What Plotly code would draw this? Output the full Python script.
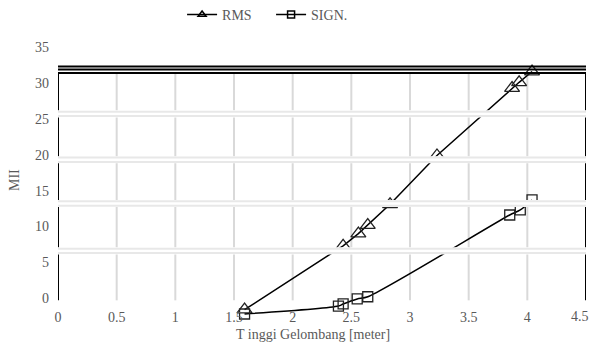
import plotly.graph_objects as go

# Data
rms_x = [1.59, 2.43, 2.56, 2.64, 2.83, 3.23, 3.87, 3.93, 4.04]
rms_y = [-1.6, 7.3, 9.0, 10.2, 13.1, 19.9, 29.3, 30.1, 31.6]
sign_x = [1.59, 2.39, 2.43, 2.55, 2.64, 3.85, 3.94, 4.04]
sign_y = [-2.2, -1.1, -0.8, -0.1, 0.2, 11.6, 12.3, 13.7]

x_ticks = [0, 0.5, 1, 1.5, 2, 2.5, 3, 3.5, 4, 4.5]
y_ticks = [0, 5, 10, 15, 20, 25, 30, 35]
band_levels = [25.7, 19.3, 13.2, 6.6]
top_lines = [32.3, 31.9, 31.4]

FONT = "Liberation Serif, Times New Roman, serif"
GRAY = "#595959"
frame_top = top_lines[-1]
frame_bottom = -0.3
y_range = [-2.9, 35.3]

fig = go.Figure()

fig.add_trace(go.Scatter(
    x=rms_x, y=rms_y, mode="lines+markers", showlegend=False,
    line=dict(color="black", width=1.5),
    marker=dict(symbol="triangle-up-open", size=13, color="#222", line=dict(width=1.3)),
    cliponaxis=False))
fig.add_trace(go.Scatter(
    x=sign_x, y=sign_y, mode="lines+markers", showlegend=False,
    line=dict(color="black", width=1.5, shape="spline", smoothing=0.8),
    marker=dict(symbol="square-open", size=10, color="#222", line=dict(width=1.3)),
    cliponaxis=False))

# legend entries
fig.add_trace(go.Scatter(x=[None], y=[None], mode="lines+markers", name="RMS",
                         line=dict(color="black", width=1.5),
                         marker=dict(symbol="triangle-up-open", size=7, color="black", line=dict(width=1.5))))
fig.add_trace(go.Scatter(x=[None], y=[None], mode="lines+markers", name="SIGN.",
                         line=dict(color="black", width=1.5),
                         marker=dict(symbol="square-open", size=7, color="black", line=dict(width=1.5))))

shapes = []
for xv in x_ticks[1:-1]:
    shapes.append(dict(type="line", xref="x", yref="y", x0=xv, x1=xv, y0=frame_bottom, y1=frame_top,
                       line=dict(color="#d9d9d9", width=2), layer="below"))
for xv in (x_ticks[0], x_ticks[-1]):
    shapes.append(dict(type="line", xref="x", yref="y", x0=xv, x1=xv, y0=frame_bottom, y1=frame_top,
                       line=dict(color="black", width=2), layer="above"))
for yv in top_lines:
    shapes.append(dict(type="line", xref="x", yref="y", x0=0, x1=4.5, y0=yv, y1=yv,
                       line=dict(color="black", width=2), layer="above"))
for yv in band_levels:
    shapes.append(dict(type="rect", xref="x", yref="y", x0=0, x1=4.5, y0=yv - 0.5, y1=yv + 0.5,
                       fillcolor="white", line=dict(width=0), layer="above"))
    for d in (-0.3, 0.3):
        shapes.append(dict(type="line", xref="x", yref="y", x0=0, x1=4.5, y0=yv + d, y1=yv + d,
                           line=dict(color="#e8e8e8", width=2), layer="above"))

annotations = [
    dict(text="T inggi Gelombang [meter]", xref="paper", yref="paper", x=0.483, y=-0.058,
         xanchor="center", yanchor="middle", showarrow=False,
         font=dict(family=FONT, size=14, color=GRAY)),
    dict(text="MII", xref="paper", yref="paper", x=-0.081, y=0.508, textangle=-90,
         xanchor="center", yanchor="middle", showarrow=False,
         font=dict(family=FONT, size=14, color=GRAY)),
    # last x tick label, nudged left so it stays inside the page
    dict(text=f"{x_ticks[-1]:g}", xref="x", yref="paper", x=x_ticks[-1], y=0,
         xanchor="right", yanchor="middle", xshift=5, yshift=3, showarrow=False,
         font=dict(family=FONT, size=14, color=GRAY)),
]

fig.update_layout(
    width=591, height=345,
    margin=dict(l=58, r=5, t=45, b=26, autoexpand=False),
    paper_bgcolor="white", plot_bgcolor="white",
    font=dict(family=FONT, size=14, color=GRAY),
    shapes=shapes, annotations=annotations,
    legend=dict(orientation="h", x=0.235, xanchor="left", y=1.11, yanchor="middle",
                font=dict(family=FONT, size=14, color=GRAY), bgcolor="rgba(0,0,0,0)",
                entrywidth=44),
    xaxis=dict(range=[0, 4.5], tickvals=x_ticks[:-1], ticktext=[f"{v:g}" for v in x_ticks[:-1]],
               showgrid=False, zeroline=False, showline=False, automargin=False,
               ticklabelstandoff=-12),
    yaxis=dict(range=y_range, tickvals=y_ticks, showgrid=False, zeroline=False,
               showline=False, automargin=False, ticklabelstandoff=8),
)

fig.write_html("out.html", config={"displayModeBar": False},
               post_script="document.body.style.margin='0';document.body.style.overflow='hidden';")
